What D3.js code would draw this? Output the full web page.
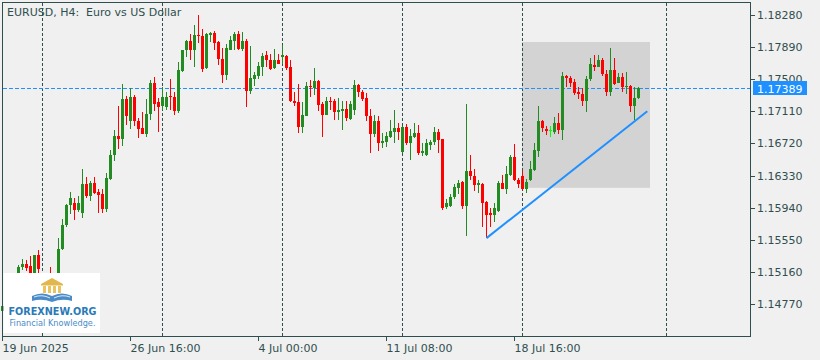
<!DOCTYPE html>
<html>
<head>
<meta charset="utf-8">
<script src="https://d3js.org/d3.v7.min.js"></script>
<style>
  body { margin: 0; background: #f0f0f0; }
  svg { display: block; font-family: "DejaVu Sans", sans-serif; }
</style>
</head>
<body>
<svg width="820" height="360"></svg>
<script>
// EURUSD H4 bars, oldest first
const open = [
  1.1469,1.1475,1.1484,1.1479,1.1500,1.1522,1.1526,1.1523,1.1515,1.1536,
  1.1514,1.1483,1.1490,1.1481,1.1500,1.1544,1.1573,1.1597,1.1600,1.1591,
  1.1588,1.1623,1.1608,1.1624,1.1613,1.1610,1.1592,1.1629,1.1658,1.1681,
  1.1678,1.1726,1.1699,1.1729,1.1699,1.1691,1.1684,1.1708,1.1746,1.1722,
  1.1717,1.1716,1.1730,1.1728,1.1712,1.1760,1.1785,1.1796,1.1785,1.1804,
  1.1802,1.1764,1.1804,1.1806,1.1795,1.1774,1.1755,1.1786,1.1797,1.1805,
  1.1787,1.1796,1.1736,1.1750,1.1754,1.1765,1.1779,1.1773,1.1764,1.1773,
  1.1777,1.1778,1.1765,1.1724,1.1722,1.1692,1.1705,1.1742,1.1739,1.1748,
  1.1720,1.1707,1.1724,1.1723,1.1710,1.1712,1.1714,1.1702,1.1713,1.1743,
  1.1734,1.1727,1.1705,1.1684,1.1699,1.1673,1.1674,1.1680,1.1686,1.1691,
  1.1662,1.1692,1.1673,1.1680,1.1685,1.1661,1.1658,1.1670,1.1674,1.1686,
  1.1678,1.1595,1.1596,1.1607,1.1618,1.1625,1.1596,1.1639,1.1632,1.1622,
  1.1623,1.1601,1.1587,1.1585,1.1590,1.1624,1.1617,1.1634,1.1656,1.1628,
  1.1633,1.1617,1.1627,1.1640,1.1663,1.1699,1.1689,1.1688,1.1686,1.1697,
  1.1688,1.1754,1.1752,1.1747,1.1734,1.1732,1.1723,1.1750,1.1767,1.1765,
  1.1773,1.1756,1.1734,1.1761,1.1746,1.1753,1.1740,1.1742,1.1717,1.1727
];
const high = [
  1.1479,1.1488,1.1492,1.1502,1.1524,1.1532,1.1530,1.1535,1.1537,1.1543,
  1.1515,1.1496,1.1522,1.1505,1.1557,1.1580,1.1599,1.1613,1.1606,1.1608,
  1.1641,1.1631,1.1626,1.1631,1.1617,1.1617,1.1636,1.1664,1.1688,1.1717,
  1.1744,1.1730,1.1739,1.1731,1.1703,1.1710,1.1726,1.1749,1.1753,1.1727,
  1.1741,1.1734,1.1750,1.1735,1.1771,1.1786,1.1798,1.1805,1.1816,1.1828,
  1.1811,1.1806,1.1807,1.1809,1.1797,1.1788,1.1793,1.1802,1.1807,1.1809,
  1.1807,1.1799,1.1790,1.1759,1.1771,1.1782,1.1784,1.1781,1.1787,1.1781,
  1.1792,1.1780,1.1773,1.1734,1.1744,1.1722,1.1747,1.1749,1.1764,1.1749,
  1.1722,1.1728,1.1728,1.1726,1.1727,1.1723,1.1724,1.1723,1.1749,1.1744,
  1.1737,1.1733,1.1714,1.1706,1.1705,1.1685,1.1686,1.1701,1.1713,1.1697,
  1.1693,1.1696,1.1689,1.1697,1.1695,1.1672,1.1678,1.1676,1.1692,1.1689,
  1.1678,1.1604,1.1611,1.1623,1.1628,1.1626,1.1720,1.1658,1.1641,1.1628,
  1.1624,1.1602,1.1594,1.1600,1.1626,1.1634,1.1645,1.1658,1.1671,1.1630,
  1.1638,1.1629,1.1651,1.1673,1.1717,1.1701,1.1693,1.1693,1.1704,1.1709,
  1.1759,1.1755,1.1754,1.1750,1.1741,1.1739,1.1754,1.1776,1.1780,1.1780,
  1.1776,1.1761,1.1788,1.1776,1.1758,1.1758,1.1759,1.1743,1.1741,1.1741
];
const low = [
  1.1462,1.1470,1.1474,1.1476,1.1495,1.1518,1.1517,1.1508,1.1511,1.1505,
  1.1478,1.1472,1.1476,1.1474,1.1496,1.1542,1.1571,1.1586,1.1579,1.1589,
  1.1581,1.1606,1.1602,1.1610,1.1588,1.1587,1.1589,1.1627,1.1651,1.1665,
  1.1669,1.1694,1.1689,1.1693,1.1679,1.1683,1.1680,1.1701,1.1711,1.1686,
  1.1713,1.1713,1.1713,1.1706,1.1709,1.1759,1.1777,1.1773,1.1765,1.1794,
  1.1759,1.1763,1.1795,1.1786,1.1767,1.1745,1.1749,1.1785,1.1786,1.1786,
  1.1784,1.1716,1.1732,1.1742,1.1750,1.1754,1.1765,1.1761,1.1763,1.1768,
  1.1769,1.1761,1.1722,1.1717,1.1685,1.1685,1.1705,1.1729,1.1731,1.1712,
  1.1680,1.1706,1.1713,1.1700,1.1701,1.1688,1.1699,1.1701,1.1707,1.1729,
  1.1724,1.1699,1.1661,1.1680,1.1663,1.1667,1.1668,1.1679,1.1672,1.1676,
  1.1660,1.1670,1.1652,1.1679,1.1658,1.1657,1.1657,1.1664,1.1670,1.1661,
  1.1591,1.1592,1.1595,1.1604,1.1611,1.1592,1.1560,1.1627,1.1614,1.1612,
  1.1571,1.1557,1.1571,1.1577,1.1589,1.1617,1.1610,1.1632,1.1626,1.1618,
  1.1615,1.1612,1.1626,1.1639,1.1656,1.1686,1.1682,1.1680,1.1683,1.1684,
  1.1676,1.1740,1.1740,1.1731,1.1726,1.1718,1.1710,1.1748,1.1760,1.1765,
  1.1754,1.1730,1.1730,1.1743,1.1745,1.1734,1.1732,1.1710,1.1701,1.1726
];
const close = [
  1.1475,1.1484,1.1479,1.1498,1.1522,1.1526,1.1521,1.1512,1.1536,1.1519,
  1.1483,1.1490,1.1481,1.1500,1.1544,1.1573,1.1597,1.1606,1.1591,1.1600,
  1.1623,1.1608,1.1624,1.1612,1.1609,1.1592,1.1630,1.1658,1.1681,1.1678,
  1.1726,1.1705,1.1728,1.1699,1.1690,1.1683,1.1708,1.1746,1.1720,1.1716,
  1.1728,1.1728,1.1728,1.1712,1.1761,1.1786,1.1796,1.1785,1.1804,1.1802,
  1.1763,1.1805,1.1806,1.1794,1.1774,1.1755,1.1788,1.1798,1.1805,1.1787,
  1.1796,1.1736,1.1752,1.1755,1.1766,1.1778,1.1773,1.1763,1.1773,1.1769,
  1.1779,1.1764,1.1723,1.1721,1.1692,1.1707,1.1742,1.1740,1.1748,1.1719,
  1.1707,1.1724,1.1722,1.1710,1.1713,1.1714,1.1703,1.1720,1.1743,1.1734,
  1.1726,1.1705,1.1684,1.1699,1.1673,1.1675,1.1681,1.1687,1.1691,1.1686,
  1.1692,1.1673,1.1681,1.1685,1.1660,1.1663,1.1672,1.1674,1.1686,1.1676,
  1.1594,1.1600,1.1607,1.1619,1.1624,1.1596,1.1639,1.1633,1.1622,1.1624,
  1.1600,1.1585,1.1585,1.1594,1.1624,1.1617,1.1635,1.1656,1.1627,1.1623,
  1.1617,1.1625,1.1641,1.1664,1.1699,1.1691,1.1687,1.1688,1.1697,1.1688,
  1.1754,1.1752,1.1746,1.1733,1.1732,1.1723,1.1750,1.1769,1.1765,1.1773,
  1.1756,1.1734,1.1761,1.1744,1.1753,1.1740,1.1742,1.1717,1.1727,1.17389
];

// axes
const yTicks = [1.18280, 1.17890, 1.17500, 1.17110, 1.16720, 1.16330, 1.15940, 1.15550, 1.15160, 1.14770];
const xTickBars = [0, 32, 64, 96, 128];
const xTickLabels = ["19 Jun 2025", "26 Jun 16:00", "4 Jul 00:00", "11 Jul 08:00", "18 Jul 16:00"];
const gridBars = [10, 40, 70, 100, 130, 166];   // week separators

// objects on the chart
const lastPrice = 1.17389;
const boxBars = [130, 162];
const boxPrices = [1.17952, 1.16181];
const trendBars = [121, 161.2];
const trendPrices = [1.1557, 1.1711];

const axisColor = "#2f4f4f";
const svg = d3.select("svg");

// one bar = 4px, like MT4 at this zoom
const x = d3.scaleLinear().domain([0, 1]).range([2.5, 6.5]);
const y = d3.scaleLinear().domain([1.14770, 1.18280]).range([304, 15]);

const frameL = 2.5, frameT = 2.5, frameR = 750.5, frameB = 336.5;

// rectangle object (background)
svg.append("rect")
    .attr("x", x(boxBars[0]) - 0.5)
    .attr("y", y(boxPrices[0]))
    .attr("width", x(boxBars[1]) - x(boxBars[0]))
    .attr("height", y(boxPrices[1]) - y(boxPrices[0]))
    .attr("fill", "#d3d3d3");

// vertical grid
svg.append("g").selectAll("line")
    .data(gridBars)
    .enter().append("line")
    .attr("x1", d => x(d)).attr("x2", d => x(d))
    .attr("y1", frameT).attr("y2", frameB)
    .attr("stroke", axisColor)
    .attr("stroke-dasharray", "3,2")
    .attr("shape-rendering", "crispEdges");

// bid line
const yLast = Math.round(y(lastPrice)) + 0.5;
svg.append("line")
    .attr("x1", frameL).attr("x2", frameR)
    .attr("y1", yLast).attr("y2", yLast)
    .attr("stroke", "#1e90ff")
    .attr("stroke-dasharray", "4,2")
    .attr("shape-rendering", "crispEdges");

// candles
const bars = d3.range(open.length).map(i => ({ i: i, o: open[i], h: high[i], l: low[i], c: close[i] }));
const colour = d => d.c > d.o ? "#228b22" : (d.c < d.o ? "#ff0000" : "#00ff00");

const candles = svg.append("g").attr("shape-rendering", "crispEdges");
candles.selectAll("line")
    .data(bars)
    .enter().append("line")
    .attr("x1", d => x(d.i)).attr("x2", d => x(d.i))
    .attr("y1", d => y(d.h)).attr("y2", d => y(d.l))
    .attr("stroke", colour);
candles.selectAll("rect")
    .data(bars)
    .enter().append("rect")
    .attr("x", d => x(d.i) - 1.5)
    .attr("y", d => y(Math.max(d.o, d.c)))
    .attr("width", 3)
    .attr("height", d => Math.max(1, y(Math.min(d.o, d.c)) - y(Math.max(d.o, d.c))))
    .attr("fill", colour);

// trend line
svg.append("line")
    .attr("x1", x(trendBars[0])).attr("y1", y(trendPrices[0]))
    .attr("x2", x(trendBars[1])).attr("y2", y(trendPrices[1]))
    .attr("stroke", "#1e90ff")
    .attr("stroke-width", 2);

// frame
svg.append("rect")
    .attr("x", frameL).attr("y", frameT)
    .attr("width", frameR - frameL).attr("height", frameB - frameT)
    .attr("fill", "none")
    .attr("stroke", axisColor)
    .attr("shape-rendering", "crispEdges");

// price axis
const yAxis = svg.append("g");
yAxis.selectAll("line")
    .data(yTicks)
    .enter().append("line")
    .attr("x1", frameR).attr("x2", frameR + 4)
    .attr("y1", d => Math.round(y(d)) + 0.5).attr("y2", d => Math.round(y(d)) + 0.5)
    .attr("stroke", axisColor)
    .attr("shape-rendering", "crispEdges");
yAxis.selectAll("text")
    .data(yTicks)
    .enter().append("text")
    .attr("x", 757)
    .attr("y", d => y(d) + 4)
    .attr("font-size", 11)
    .attr("fill", axisColor)
    .text(d => d.toFixed(5));

// last price label
svg.append("rect")
    .attr("x", 753).attr("y", yLast - 7.5)
    .attr("width", 54).attr("height", 14)
    .attr("fill", "#1e90ff");
svg.append("text")
    .attr("x", 757).attr("y", yLast + 4)
    .attr("font-size", 11)
    .attr("fill", "#ffffff")
    .text(lastPrice.toFixed(5));

// time axis
const xAxis = svg.append("g");
xAxis.selectAll("line")
    .data(xTickBars)
    .enter().append("line")
    .attr("x1", d => x(d)).attr("x2", d => x(d))
    .attr("y1", frameB).attr("y2", frameB + 4)
    .attr("stroke", axisColor)
    .attr("shape-rendering", "crispEdges");
xAxis.selectAll("text")
    .data(xTickBars)
    .enter().append("text")
    .attr("x", d => x(d))
    .attr("y", 352)
    .attr("font-size", 11)
    .attr("fill", axisColor)
    .text((d, k) => xTickLabels[k]);

// title
svg.append("text")
    .attr("x", 7).attr("y", 16)
    .attr("font-size", 11)
    .attr("fill", axisColor)
    .style("white-space", "pre")
    .text("EURUSD, H4:  Euro vs US Dollar");

// watermark logo
const logo = svg.append("g");
logo.append("rect")
    .attr("x", 3.5).attr("y", 273)
    .attr("width", 96.5).attr("height", 60)
    .attr("fill", "#ffffff");
logo.append("path")
    .attr("d", "M41,284 L52,278 L63,284 Z")
    .attr("fill", "#e2b84c");
logo.append("rect")
    .attr("x", 41).attr("y", 284).attr("width", 22).attr("height", 1.5)
    .attr("fill", "#e2b84c");
logo.selectAll(".col")
    .data([43, 48, 53, 58])
    .enter().append("rect")
    .attr("x", d => d).attr("y", 286)
    .attr("width", 3).attr("height", 7)
    .attr("fill", "#e8c35e");
logo.append("path")
    .attr("d", "M32,296 Q42,291 52,296 L52,302 Q42,298 32,301 Z M72,296 Q62,291 52,296 L52,302 Q62,298 72,301 Z")
    .attr("fill", "#4a8cc9");
logo.append("path")
    .attr("d", "M34,297 Q42,294 50,298 M54,298 Q62,294 70,297")
    .attr("stroke", "#ffffff").attr("stroke-width", 0.8).attr("fill", "none");
logo.append("text")
    .attr("x", 8.5).attr("y", 314.5)
    .attr("font-size", 11).attr("font-weight", "bold")
    .attr("fill", "#2a7ab8")
    .attr("textLength", 88).attr("lengthAdjust", "spacingAndGlyphs")
    .text("FOREXNEW.ORG");
logo.append("text")
    .attr("x", 9.5).attr("y", 326)
    .attr("font-size", 8.5)
    .attr("fill", "#4a8cc9")
    .attr("textLength", 86).attr("lengthAdjust", "spacingAndGlyphs")
    .text("Financial Knowledge.");
</script>
</body>
</html>
